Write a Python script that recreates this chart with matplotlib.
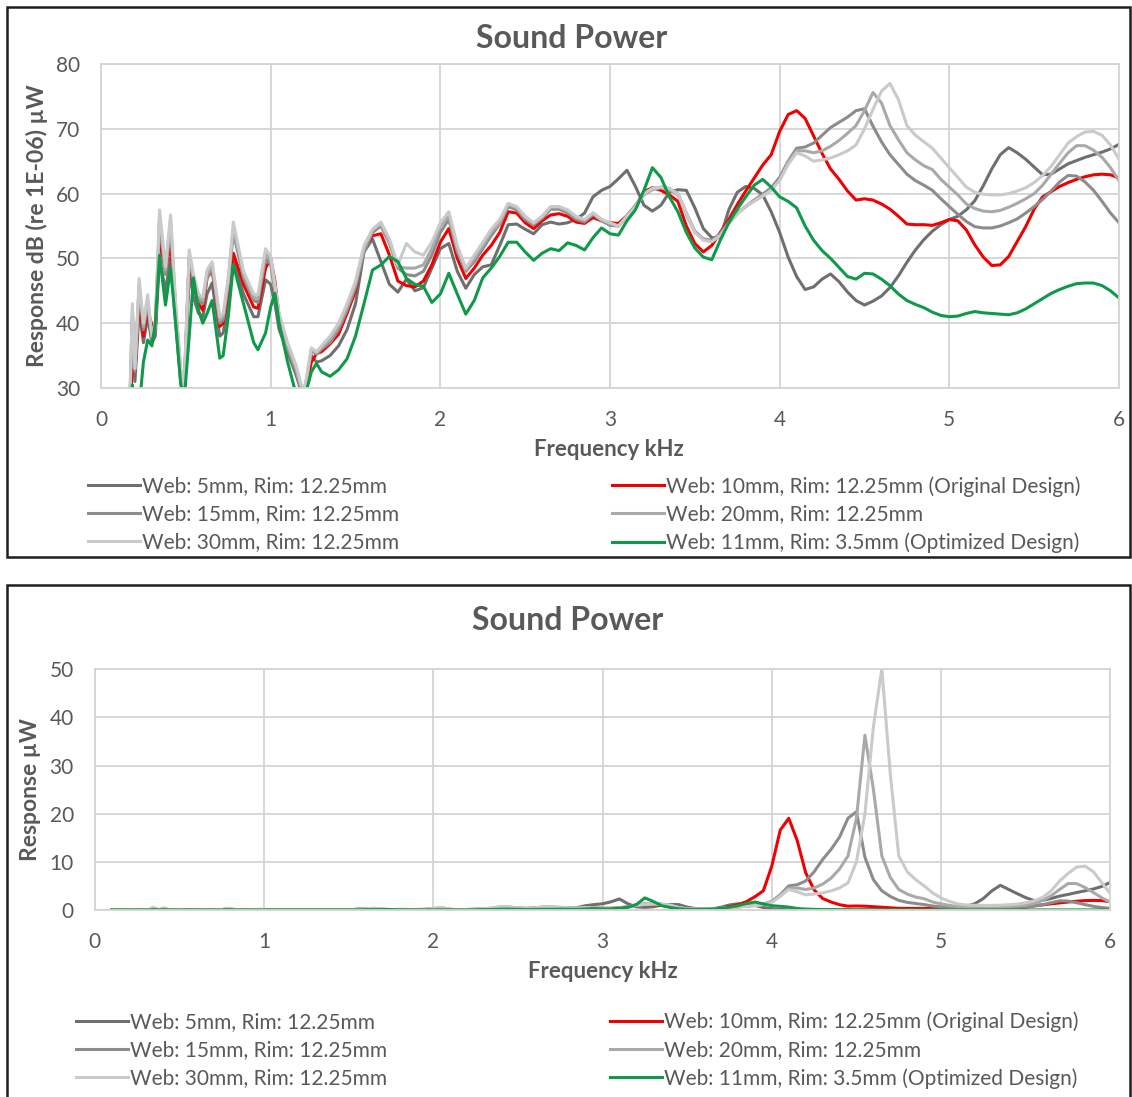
import numpy as np
import matplotlib
matplotlib.use("Agg")
import matplotlib.pyplot as plt
from matplotlib.patches import Rectangle

W, H = 1132, 1097
plt.rcParams['font.family'] = ['Lato', 'DejaVu Sans']

# sampling frequencies (kHz)
FREQ_LOW = [0.10, 0.15, 0.17, 0.185, 0.20, 0.225, 0.25, 0.275, 0.30, 0.32,
            0.345, 0.38, 0.41, 0.44, 0.47, 0.49, 0.52, 0.545, 0.575, 0.60,
            0.625, 0.655, 0.70, 0.72, 0.75, 0.78, 0.84, 0.90, 0.925, 0.97,
            1.00, 1.025, 1.05, 1.10, 1.15, 1.18, 1.20, 1.24, 1.27, 1.30]
FREQ_HIGH = [round(1.35 + 0.05 * i, 2) for i in range(94)]
FREQ = np.array(FREQ_LOW + FREQ_HIGH)

# sound power level, dB re 1E-06 uW
WEB5_LOW = [20, 24, 27, 38, 31, 42, 37, 41, 37, 38,
            50, 45, 50, 40, 31, 29, 48, 44, 41.5, 41,
            44.5, 46.2, 38, 38.5, 43, 49.7, 44.5, 41, 41, 46.7,
            46, 43, 39, 35.5, 32, 29.5, 29, 35, 34, 34.2]
WEB5_HIGH = [35, 36.5, 39, 43, 51, 53, 49.5, 46, 44.8, 46.8,
             45, 45.5, 48.5, 51.5, 52.3, 48, 45.4, 47.5, 48.7, 49,
             52, 55.2, 55.3, 54.5, 53.8, 55.2, 55.6, 55.3, 55.5, 56,
             57, 59.5, 60.5, 61.1, 62.3, 63.6, 61.1, 58.2, 57.3, 58.2,
             60.2, 60.6, 60.5, 57.8, 54.6, 53.2, 53.2, 57.5, 60.2, 61.1,
             60.8, 59.8, 57.2, 54, 50.2, 47.2, 45.2, 45.6, 46.8, 47.6,
             46.4, 44.8, 43.5, 42.8, 43.4, 44.2, 45.5, 47.3, 49.4, 51.3,
             52.9, 54.2, 55.2, 56, 56.5, 57.5, 58.9, 61.2, 63.8, 66,
             67.1, 66.3, 65.3, 64.1, 62.9, 63, 63.8, 64.6, 65.1, 65.6,
             66, 66.4, 66.9, 67.6]

WEB10_LOW = [20, 24, 27, 33, 32.5, 44, 38, 42, 39.7, 39,
             53, 48, 52.5, 41, 32, 29.5, 50, 46, 43, 42,
             47, 48.2, 39.5, 40, 45, 50.8, 46, 42.5, 42.3, 48.5,
             50, 46.5, 41, 36.5, 33, 30, 29, 34, 35.3, 35.6]
WEB10_HIGH = [36.8, 38.3, 41.5, 45, 51.5, 53.5, 53.8, 50.5, 46.5, 45.8,
              45.6, 46.5, 49, 52.5, 54.6, 50, 46.9, 48.5, 50.5, 52,
              54, 57.2, 57, 55.5, 54.6, 55.8, 56.7, 56.9, 56.5, 55.6,
              55.4, 56.3, 55.8, 55.5, 55.4, 56.6, 58, 60.3, 60.9, 60.5,
              59.8, 58.8, 55, 52.3, 51, 52, 54, 56, 58.3, 60.4,
              62.4, 64.4, 66, 69.6, 72.2, 72.8, 71.6, 68.9, 66.2, 63.8,
              62.2, 60.4, 59, 59.2, 59, 58.4, 57.6, 56.5, 55.3, 55.2,
              55.2, 55.1, 55.5, 56, 55.8, 54.4, 52.1, 50.2, 48.9, 49,
              50.3, 52.6, 54.9, 57.6, 59.5, 60.3, 61.1, 61.7, 62.2, 62.6,
              62.9, 63, 62.9, 62.4]

WEB15_LOW = [20, 24, 27.5, 41, 32.5, 45.5, 39, 43, 37.5, 39,
             55.5, 47.5, 55, 42, 32, 29.5, 50, 46.5, 43.5, 43,
             47, 48.5, 40, 40.5, 46, 54, 47, 43.5, 43.2, 50,
             49, 45, 40.5, 36, 32.5, 29.8, 29.2, 35.8, 35.2, 36]
WEB15_HIGH = [37, 39, 42, 45.5, 51, 54, 55, 52.3, 48.5, 47.5,
              47.3, 48, 50.5, 54, 56, 51, 48, 49.5, 51.5, 53.5,
              55.3, 58, 57.5, 56, 55.2, 56.2, 57.6, 57.6, 57, 56,
              55.6, 56.8, 55.8, 55.1, 55, 56.6, 58.2, 60, 60.8, 61,
              60.8, 60, 57, 54.2, 53, 52.8, 53.8, 55.6, 57, 58,
              59, 59.9, 60.9, 62.5, 65, 67, 67.2, 67.8, 69, 70.2,
              71, 71.8, 72.8, 73.1, 70.4, 68, 66, 64.5, 63, 62,
              61.3, 60.5, 59.2, 58, 56.8, 55.7, 54.9, 54.7, 54.7, 55,
              55.5, 56.1, 57, 58, 59.1, 60.4, 61.8, 62.8, 62.7, 61.8,
              60.5, 58.8, 57, 55.5]

WEB20_LOW = [20, 24, 28, 42, 33, 46, 39.5, 43.5, 38, 39.5,
             56.5, 48.2, 55.8, 42.5, 32.5, 30, 50.5, 47, 44, 43.5,
             47.5, 49, 40.5, 41, 46.5, 54.8, 47.5, 44, 43.8, 50.8,
             49.6, 45.5, 41, 36.5, 33, 30, 29.5, 36, 35.4, 36.2]
WEB20_HIGH = [37.5, 39.5, 42.5, 46, 51.5, 54.3, 55.3, 52.5, 48.7, 48.5,
              48.5, 49, 51.5, 55, 56.5, 51.5, 48.2, 50, 52, 54,
              55.5, 58.3, 57.8, 56.3, 55.4, 56.5, 57.9, 57.9, 57.3, 56.3,
              55.9, 57, 56, 55.3, 55, 56.5, 58, 59.8, 60.6, 60.9,
              60.6, 59.8, 56.8, 54, 52.9, 52.6, 53.6, 55.5, 56.9, 58,
              58.9, 59.7, 60.6, 62.2, 64.8, 66.6, 66.6, 66.3, 66.6, 67.3,
              68.2, 69.3, 70.5, 72.8, 75.6, 74, 70.5, 68.3, 66.3, 65.2,
              64.3, 63.7, 62.2, 61, 59.8, 58.4, 57.7, 57.3, 57.2, 57.4,
              57.9, 58.5, 59.2, 60, 61.3, 63, 64.7, 66.3, 67.4, 67.4,
              66.7, 65.6, 64, 62]

WEB30_LOW = [20, 24, 28, 43, 33, 46.9, 40, 44.4, 38, 40,
             57.5, 48.7, 56.7, 43, 33, 30.5, 51.3, 47.5, 44.5, 44,
             48.2, 49.5, 41, 41.5, 47, 55.6, 48, 44.5, 44.4, 51.5,
             50.3, 46, 41.5, 37, 33.5, 30.5, 30, 36.2, 35.6, 36.5]
WEB30_HIGH = [38, 40, 43, 46.5, 52, 54.5, 55.6, 53, 49, 52.3,
              51, 50.5, 52.5, 55.5, 57.2, 52, 48.5, 50.5, 52.5, 54.5,
              56, 58.5, 58, 56.5, 55.5, 56.5, 58, 58, 57.5, 56.5,
              56, 57, 56, 55.5, 55, 56.5, 58, 60, 60.8, 61,
              60.8, 60, 57, 54, 52.8, 52.6, 53.5, 55.3, 56.8, 58,
              58.8, 59.6, 60.5, 62, 64.5, 66.3, 65.8, 65, 65.2, 65.5,
              66, 66.6, 67.5, 70, 73, 75.8, 77, 74.5, 70.5, 69,
              68, 67, 65.5, 64, 62.5, 61, 60.2, 59.9, 59.8, 59.8,
              60, 60.4, 60.9, 61.7, 62.8, 64.2, 66, 67.8, 68.8, 69.5,
              69.6, 69, 67.5, 65.3]

WEB11_LOW = [20, 23, 26, 30.5, 27, 27, 34, 37.4, 36.5, 40,
             50.5, 42.8, 48.5, 40, 30.5, 28, 38, 47, 42, 40,
             41.5, 43.5, 34.6, 35, 41, 49, 43, 37, 35.9, 38.5,
             42.5, 44.6, 40, 34, 29, 27, 28.5, 32.5, 33.8, 32.5]
WEB11_HIGH = [31.8, 32.8, 34.5, 38, 43, 48.2, 49, 50.3, 49.5, 46.9,
              46, 45.7, 43.2, 44.5, 47.7, 44.5, 41.4, 43.5, 47, 48.5,
              50.3, 52.5, 52.5, 51, 49.7, 50.8, 51.5, 51.2, 52.4, 52,
              51.3, 53.2, 54.7, 53.8, 53.6, 55.8, 57.5, 60.5, 64, 62.5,
              59.5, 57.2, 54, 51.6, 50.2, 49.8, 52.8, 55.5, 57.6, 59.5,
              61.3, 62.2, 61, 59.5, 58.8, 57.8, 55, 52.8, 51.2, 50,
              48.6, 47.2, 46.8, 47.7, 47.6, 46.8, 45.8, 44.5, 43.5, 42.9,
              42.4, 41.7, 41.2, 41, 41.1, 41.5, 41.8, 41.6, 41.5, 41.4,
              41.3, 41.6, 42.2, 43, 43.8, 44.6, 45.2, 45.7, 46.1, 46.2,
              46.2, 45.8, 45, 43.9]

LABELS = ["Web: 5mm, Rim: 12.25mm",
          "Web: 10mm, Rim: 12.25mm (Original Design)",
          "Web: 15mm, Rim: 12.25mm",
          "Web: 20mm, Rim: 12.25mm",
          "Web: 30mm, Rim: 12.25mm",
          "Web: 11mm, Rim: 3.5mm (Optimized Design)"]
COLORS = ['#6f6f6f', '#f00000', '#8c8c8c', '#a9a9a9', '#cacaca', '#0f9a4a']
DB = [WEB5_LOW + WEB5_HIGH, WEB10_LOW + WEB10_HIGH, WEB15_LOW + WEB15_HIGH,
      WEB20_LOW + WEB20_HIGH, WEB30_LOW + WEB30_HIGH, WEB11_LOW + WEB11_HIGH]

TXT = '#595959'
GRID = '#d4d4d4'


def fx(x):
    return x / W


def fy(y):
    return 1 - y / H


def style_axes(ax, ymin, ymax, ystep):
    ax.set_xlim(0, 6)
    ax.set_ylim(ymin, ymax)
    ax.set_xticks(range(0, 7))
    ax.set_yticks(np.arange(ymin, ymax + 1, ystep))
    ax.grid(True, color=GRID, lw=1.3)
    ax.set_axisbelow(True)
    for s in ax.spines.values():
        s.set_color(GRID)
        s.set_linewidth(1.3)
    ax.tick_params(length=0, colors=TXT, labelsize=15)
    ax.tick_params(axis='x', pad=16)
    ax.tick_params(axis='y', pad=15)


def add_legends(lines, y_mid, x1, x2):
    for idx, x0 in (([0, 2, 4], x1), ([1, 3, 5], x2)):
        leg = fig.legend([lines[i] for i in idx], [LABELS[i] for i in idx],
                         loc='center left', bbox_to_anchor=(fx(x0), fy(y_mid)),
                         frameon=False, fontsize=15, handlelength=2.5,
                         handletextpad=0.1, labelspacing=0.38, borderpad=0,
                         borderaxespad=0)
        for t in leg.get_texts():
            t.set_color(TXT)


fig = plt.figure(figsize=(W / 100, H / 100), dpi=100)

# ---- top panel: dB ----
ax1 = fig.add_axes([fx(101), fy(388), fx(1119) - fx(101), (388 - 64) / H])
style_axes(ax1, 30, 80, 10)
lines1 = []
for vals, c in zip(DB, COLORS):
    ln, = ax1.plot(FREQ, vals, color=c, lw=2.2, solid_joinstyle='round')
    lines1.append(ln)
ax1.set_ylabel("Response dB (re 1E-06) µW", fontsize=16.5, fontweight='bold',
               color=TXT, labelpad=6)
fig.text(fx(609), fy(449), "Frequency kHz", ha='center', va='center',
         fontsize=16, fontweight='bold', color=TXT)
fig.text(fx(572), fy(38), "Sound Power", ha='center', va='center',
         fontsize=23, fontweight='bold', color=TXT)
add_legends(lines1, 514.5, 88, 612)

# ---- bottom panel: uW ----
ax2 = fig.add_axes([fx(94.6), fy(910), fx(1110.4) - fx(94.6), (910 - 669.3) / H])
style_axes(ax2, 0, 50, 10)
lines2 = []
for vals, c in zip(DB, COLORS):
    uw = 1e-6 * 10 ** (np.array(vals) / 10.0)
    ln, = ax2.plot(FREQ, uw, color=c, lw=2.2, solid_joinstyle='round')
    lines2.append(ln)
ax2.set_ylabel("Response µW", fontsize=16.5, fontweight='bold', color=TXT,
               labelpad=6)
fig.text(fx(603), fy(971), "Frequency kHz", ha='center', va='center',
         fontsize=16, fontweight='bold', color=TXT)
fig.text(fx(568), fy(621), "Sound Power", ha='center', va='center',
         fontsize=23, fontweight='bold', color=TXT)
add_legends(lines2, 1050, 76, 610)

# panel frames
fig.patches.append(Rectangle((fx(7), fy(557)), fx(1130) - fx(7), (557 - 7) / H,
                             transform=fig.transFigure, fill=False,
                             edgecolor='#1e1e1e', lw=1.8))
fig.patches.append(Rectangle((fx(7), fy(1110)), fx(1130) - fx(7), (1110 - 585) / H,
                             transform=fig.transFigure, fill=False,
                             edgecolor='#1e1e1e', lw=1.8, clip_on=False))

fig.savefig("out.png", dpi=100, facecolor='white')
